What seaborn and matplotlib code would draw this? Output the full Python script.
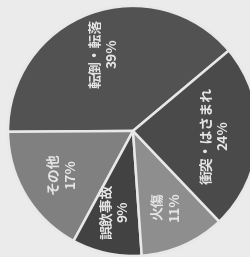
import matplotlib
matplotlib.use("Agg")
import matplotlib.pyplot as plt
import seaborn as sns

# データ（反時計回り、左上の扇形から）
categories = ["転倒・転落", "その他", "誤飲事故", "火傷", "衝突・はさまれ"]
shares = [39, 17, 9, 11, 24]
colors = ["#525252", "#808080", "#424242", "#8e8e8e", "#4a4a4a"]

sns.set_theme(style="white")
plt.rcParams['font.family'] = ['Noto Sans CJK JP', 'DejaVu Sans']

fig = plt.figure(figsize=(2.51, 2.57), dpi=100, facecolor="#ebebeb")
ax = fig.add_axes([0.032, 0.004, 0.996, 0.973])
ax.set_facecolor("#ebebeb")

labels = [f"{c}\n{s}%" for c, s in zip(categories, shares)]
wedges, texts = ax.pie(shares, labels=labels, colors=colors, startangle=40,
                       counterclock=True, labeldistance=0.66,
                       wedgeprops=dict(edgecolor="#e8e8e8", linewidth=1.8))
for t in texts:
    t.set(rotation=90, color="#e6e6e6", fontsize=10, fontweight="bold",
          ha="center", va="center", linespacing=1.25)

ax.set_xlim(-1, 1)
ax.set_ylim(-1, 1)
ax.set_aspect("auto")
ax.axis("off")

fig.savefig("out.png", dpi=100, facecolor=fig.get_facecolor())
